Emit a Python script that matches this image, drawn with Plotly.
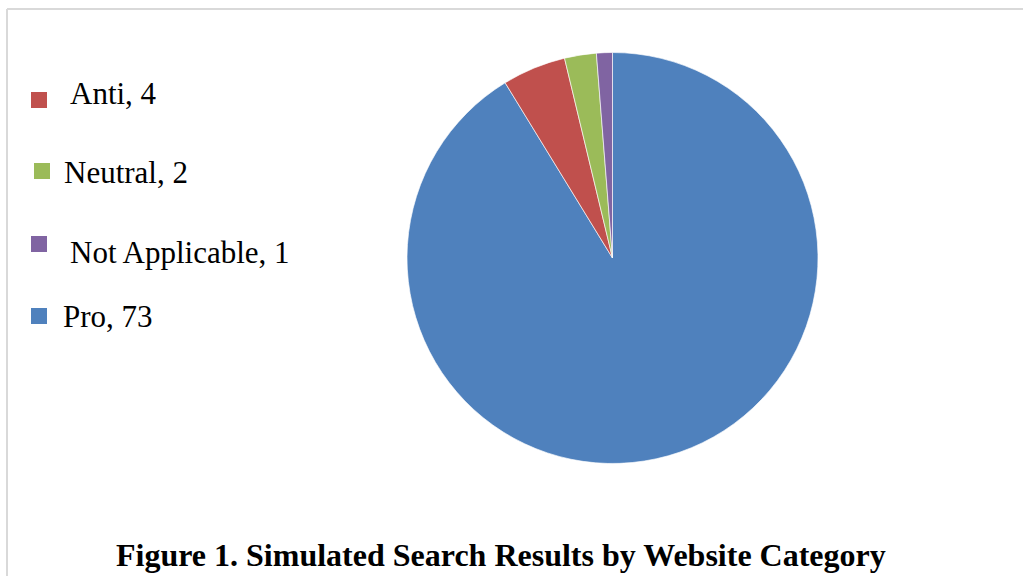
import plotly.graph_objects as go

# Data (legend order)
categories = ["Anti", "Neutral", "Not Applicable", "Pro"]
counts = [4, 2, 1, 73]
colors = ["#C0504D", "#9BBB59", "#8064A2", "#4F81BD"]
title_text = "Figure 1. Simulated Search Results by Website Category"

W, H = 1023, 576


def px(x):
    return x / W


def py(y):
    return 1 - y / H


# Pie drawn clockwise from 12 o'clock: Pro, Anti, Neutral, Not Applicable
pie_order = [3, 0, 1, 2]

fig = go.Figure()
fig.add_trace(go.Pie(
    labels=[categories[i] for i in pie_order],
    values=[counts[i] for i in pie_order],
    marker=dict(colors=[colors[i] for i in pie_order],
                line=dict(color="rgba(255,255,255,0.8)", width=0.8)),
    sort=False,
    direction="clockwise",
    rotation=0,
    textinfo="none",
    hoverinfo="label+value",
    showlegend=False,
    domain=dict(x=[px(407), px(818)], y=[py(464), py(52)]),
))

# Custom legend (swatch + text) laid out like the reference
swatch_pos = [(31, 92), (34, 163), (31, 236), (31, 308)]
text_pos = [(68, 94), (62, 172), (68, 252), (61, 316)]
shapes = []
annotations = []
for i, cat in enumerate(categories):
    sx, sy = swatch_pos[i]
    shapes.append(dict(type="rect", xref="paper", yref="paper",
                       x0=px(sx), x1=px(sx + 16), y0=py(sy + 16), y1=py(sy),
                       fillcolor=colors[i], line=dict(width=0)))
    tx, ty = text_pos[i]
    annotations.append(dict(text=f"{cat}, {counts[i]}", xref="paper", yref="paper",
                            x=px(tx), y=py(ty), xanchor="left", yanchor="middle",
                            showarrow=False,
                            font=dict(family="Liberation Serif", size=31, color="#000000")))

# Title at bottom
annotations.append(dict(text=f"<b>{title_text}</b>", xref="paper", yref="paper",
                        x=px(501), y=py(555), xanchor="center", yanchor="middle",
                        showarrow=False,
                        font=dict(family="Liberation Serif", size=32, color="#000000")))

# Light border (top and left visible)
shapes.append(dict(type="line", xref="paper", yref="paper",
                   x0=px(7), x1=1.0, y0=py(9), y1=py(9),
                   line=dict(color="#d9d9d9", width=2)))
shapes.append(dict(type="line", xref="paper", yref="paper",
                   x0=px(7), x1=px(7), y0=py(9), y1=0.0,
                   line=dict(color="#d9d9d9", width=2)))

fig.update_layout(
    width=W, height=H,
    margin=dict(l=0, r=0, t=0, b=0),
    paper_bgcolor="white",
    plot_bgcolor="white",
    shapes=shapes,
    annotations=annotations,
)

fig.write_html("out.html")
